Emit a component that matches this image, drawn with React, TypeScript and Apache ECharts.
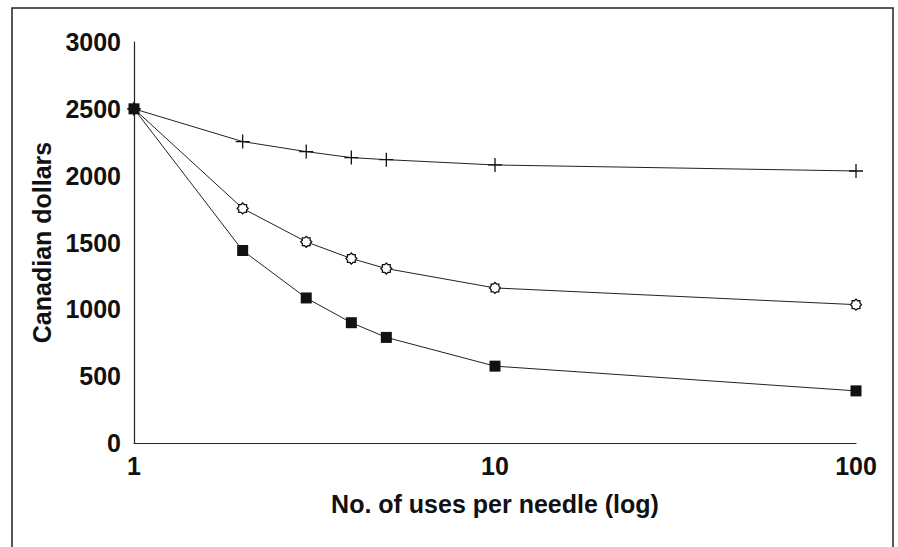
import React, { useEffect, useRef } from "react";
import * as echarts from "echarts";

const usesPerNeedle = [1, 2, 3, 4, 5, 10, 100];
const plusSeries = [2500, 2255, 2180, 2135, 2120, 2080, 2035];
const starSeries = [2500, 1755, 1505, 1380, 1305, 1160, 1035];
const squareSeries = [2500, 1440, 1085, 900, 790, 575, 390];
const yTicks = [0, 500, 1000, 1500, 2000, 2500, 3000];

function starPath(points: number, outer: number, inner: number): string {
  const parts: string[] = [];
  for (let i = 0; i < points * 2; i++) {
    const r = i % 2 === 0 ? outer : inner;
    const a = (Math.PI * i) / points - Math.PI / 2;
    const x = (outer + r * Math.cos(a)).toFixed(2);
    const y = (outer + r * Math.sin(a)).toFixed(2);
    parts.push((i === 0 ? "M" : "L") + x + "," + y);
  }
  return "path://" + parts.join("") + "Z";
}

const FONT = "'Liberation Sans', Arial, sans-serif";

export default function App() {
  const ref = useRef<HTMLDivElement>(null);
  useEffect(() => {
    if (!ref.current) return;
    const chart = echarts.init(ref.current, undefined, { renderer: "svg" });
    const pairs = (vals: number[]) => usesPerNeedle.map((x, i) => [x, vals[i]]);
    const lineStyle = { color: "#222", width: 1 };
    chart.setOption({
      animation: false,
      backgroundColor: "#fff",
      grid: { left: 134, right: 42, top: 42, bottom: 104 },
      xAxis: {
        type: "log",
        logBase: 10,
        min: 1,
        max: 100,
        name: "No. of uses per needle (log)",
        nameLocation: "middle",
        nameGap: 48,
        nameTextStyle: { fontFamily: FONT, fontWeight: "bold", fontSize: 25, color: "#111" },
        axisLine: { show: true, lineStyle: { color: "#222", width: 1.2 } },
        axisTick: { show: false },
        minorTick: { show: false },
        splitLine: { show: false },
        axisLabel: {
          fontFamily: FONT, fontWeight: "bold", fontSize: 25, color: "#111", margin: 10,
          formatter: (v: number) => String(v),
        },
      },
      yAxis: {
        type: "value",
        min: yTicks[0],
        max: yTicks[yTicks.length - 1],
        interval: 500,
        name: "Canadian dollars",
        nameLocation: "middle",
        nameRotate: 90,
        nameGap: 80,
        nameTextStyle: { fontFamily: FONT, fontWeight: "bold", fontSize: 25, color: "#111" },
        axisLine: { show: true, lineStyle: { color: "#222", width: 1.2 } },
        axisTick: { show: false },
        splitLine: { show: false },
        axisLabel: {
          fontFamily: FONT, fontWeight: "bold", fontSize: 25, color: "#111", margin: 13,
          formatter: (v: number) => String(v),
        },
      },
      series: [
        {
          type: "line",
          data: pairs(plusSeries),
          symbol: "path://M7,0L7,14M0,7L14,7",
          symbolSize: 14,
          showSymbol: true,
          lineStyle,
          itemStyle: { color: "none", borderColor: "#111", borderWidth: 1.3 },
          z: 2,
        },
        {
          type: "line",
          data: pairs(starSeries),
          symbol: starPath(8, 6, 4.6),
          symbolSize: 11,
          lineStyle,
          itemStyle: { color: "#fff", borderColor: "#111", borderWidth: 1.3 },
          z: 3,
        },
        {
          type: "line",
          data: pairs(squareSeries),
          symbol: "rect",
          symbolSize: 11,
          lineStyle,
          itemStyle: { color: "#111", borderColor: "#111", borderWidth: 0 },
          z: 4,
        },
      ],
      graphic: [
        {
          type: "rect",
          shape: { x: 12, y: 8, width: 881, height: 600 },
          style: { fill: "none", stroke: "#222", lineWidth: 1.5 },
          silent: true,
        },
      ],
    });
    return () => chart.dispose();
  }, []);
  return <div ref={ref} style={{ position: "absolute", left: 0, top: 0, width: 898, height: 547 }} />;
}
